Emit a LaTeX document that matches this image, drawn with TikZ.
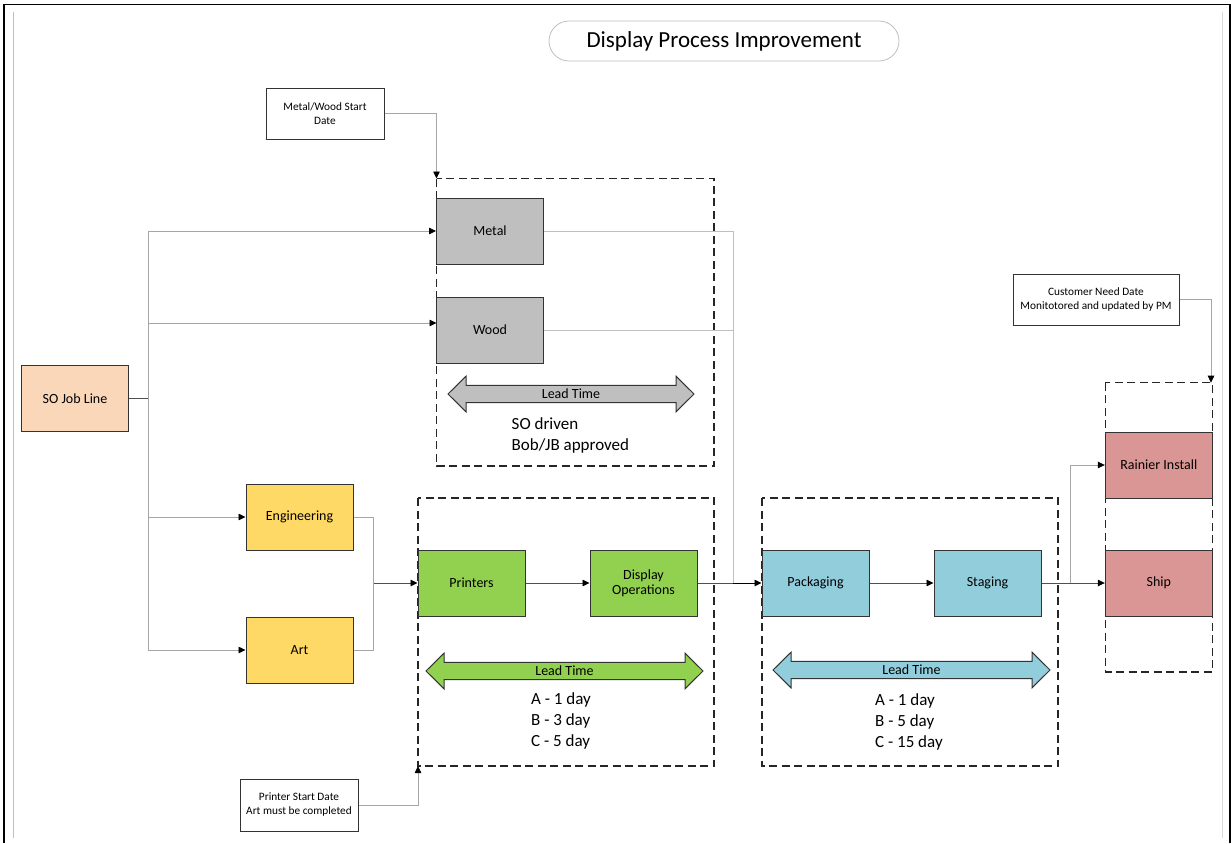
\documentclass[tikz,border=0pt]{standalone}
\usepackage{fontspec}
\setmainfont{Carlito}
\usetikzlibrary{arrows.meta}
\definecolor{boxline}{HTML}{333333}
\definecolor{lgray}{HTML}{A6A6A6}
\definecolor{dgray}{HTML}{505050}
\definecolor{cGrey}{HTML}{BFBFBF}
\definecolor{cPeach}{HTML}{FAD7B9}
\definecolor{cYellow}{HTML}{FFD966}
\definecolor{cGreen}{HTML}{92D050}
\definecolor{cCyan}{HTML}{92CDDC}
\definecolor{cRose}{HTML}{D99694}
\tikzset{
  proc/.style={draw=boxline, line width=1pt, minimum width=107pt, minimum height=66pt, inner sep=0pt, align=center, font=\fontsize{14}{17}\selectfont},
  note/.style={draw=boxline, fill=white, line width=1pt, inner sep=0pt, align=center, font=\fontsize{11.3}{14}\selectfont},
  grp/.style={draw=black!85, dash pattern=on 8pt off 4.5pt, line width=1.2pt},
  conn/.style={draw=lgray, line width=0.8pt},
  dconn/.style={draw=dgray, line width=0.8pt},
  tip/.style={-{Triangle[length=7pt,width=6.5pt,color=black]}},
  leadlbl/.style={inner sep=0pt, font=\fontsize{14}{17}\selectfont},
  sidetxt/.style={inner sep=0pt, anchor=west, align=left, font=\fontsize{17}{21}\selectfont},
  dblarrow/.style={draw=boxline, line width=1pt}
}
\newcommand{\leadarrow}[4]{% x1, x2, cy, fill
  \draw[dblarrow, fill=#4] (#1,#3) -- (#1+18,#3-17.8) -- (#1+18,#3-8.7) -- (#2-18,#3-8.7) -- (#2-18,#3-17.8) -- (#2,#3)
    -- (#2-18,#3+17.8) -- (#2-18,#3+8.7) -- (#1+18,#3+8.7) -- (#1+18,#3+17.8) -- cycle;}
\begin{document}
\begin{tikzpicture}[x=1pt,y=-1pt]
\useasboundingbox (0,0) rectangle (1231,843);
% frame
\draw[black, line width=1.5pt] (4,843) -- (4,4.3) -- (1230,4.3) -- (1230,843);
\draw[black!25, line width=0.8pt] (13,12) -- (13,838);
\draw[black!15, line width=0.8pt] (1222.7,12) -- (1222.7,838);

% title
\node[draw=black!25, line width=0.8pt, rounded corners=20pt, minimum width=350pt, minimum height=40pt, inner sep=0pt, font=\fontsize{23}{27}\selectfont] (title) at (724,41) {Display Process Improvement};

% dashed groups
\draw[grp] (436.5,178.5) rectangle (714,466);
\draw[grp] (418,498) rectangle (714,766);
\draw[grp] (762,498) rectangle (1058,766);
\draw[grp] (1105.3,382.7) rectangle (1212.3,672);
\coordinate (g1) at (436.5,178.5);
\coordinate (g2) at (418,766);
\coordinate (g4) at (1211,382.7);

% process boxes
\node[proc, fill=cPeach] (so) at (75,398.3) {SO Job Line};
\node[proc, fill=cGrey] (metal) at (490,231) {Metal};
\node[proc, fill=cGrey] (wood) at (490,330) {Wood};
\node[proc, fill=cYellow] (eng) at (299.5,517) {Engineering};
\node[proc, fill=cYellow] (art) at (299.5,650) {Art};
\node[proc, fill=cGreen] (prn) at (471.5,583) {Printers};
\node[proc, fill=cGreen] (disp) at (643.5,583) {Display\\[-2pt]Operations};
\node[proc, fill=cCyan] (pack) at (815.5,583) {Packaging};
\node[proc, fill=cCyan] (stag) at (987.5,583) {Staging};
\node[proc, fill=cRose] (rain) at (1158.8,465) {Rainier Install};
\node[proc, fill=cRose] (ship) at (1158.8,583) {Ship};

% notes
\node[note, minimum width=118pt, minimum height=51pt] (mw) at (325,113.5) {Metal/Wood Start\\Date};
\node[note, minimum width=166pt, minimum height=51pt] (cnd) at (1096,299.5) {Customer Need Date\\Monitotored and updated by PM};
\node[note, minimum width=118pt, minimum height=52pt] (psd) at (299,805) {Printer Start Date\\Art must be completed};

% lead time arrows
\leadarrow{448}{694}{394}{cGrey}
\node[leadlbl] (lt1) at (571,394) {Lead Time};
\leadarrow{426}{703}{671}{cGreen}
\node[leadlbl] (lt2) at (564.5,671) {Lead Time};
\leadarrow{773}{1050}{670}{cCyan}
\node[leadlbl] (lt3) at (911.5,670) {Lead Time};

\node[sidetxt] (t1) at (511.5,435.5) {SO driven\\Bob/JB approved};
\node[sidetxt] (t2) at (531,721) {A - 1 day\\B - 3 day\\C - 5 day};
\node[sidetxt] (t3) at (875,721.5) {A - 1 day\\B - 5 day\\C - 15 day};

% connectors
\coordinate (bus) at (148,398.3);
\coordinate (woodin) at (436.5,323);
\draw[dconn] (so.east) -- (bus);
\draw[conn, tip] (bus) |- (metal.west);
\draw[conn, tip] (bus) |- (woodin);
\draw[conn, tip] (bus) |- (eng.west);
\draw[conn, tip] (bus) |- (art.west);

\draw[conn, tip] (mw.east) -| (g1);
\draw[conn, tip] (cnd.east) -| (g4);
\draw[conn, tip] (psd.east) -| (g2);

\coordinate (j1) at (373.5,583);
\draw[conn] (eng.east) -| (j1);
\draw[conn] (art.east) -| (j1);
\draw[dconn, tip] (j1) -- (prn.west);
\draw[dconn, tip] (prn.east) -- (disp.west);

\coordinate (j2) at (733.3,583);
\draw[conn, black!25] (metal.east) -| (j2);
\draw[conn, black!25] (wood.east) -| (j2);
\draw[dconn] (disp.east) -- (j2);
\draw[draw=black, line width=0.8pt, tip] (j2) -- (pack.west);
\draw[dconn, tip] (pack.east) -- (stag.west);

\coordinate (j3) at (1070.7,583);
\draw[dconn] (stag.east) -- (j3);
\draw[conn, tip] (j3) |- (rain.west);
\draw[dconn, tip] (j3) -- (ship.west);
\end{tikzpicture}
\end{document}
